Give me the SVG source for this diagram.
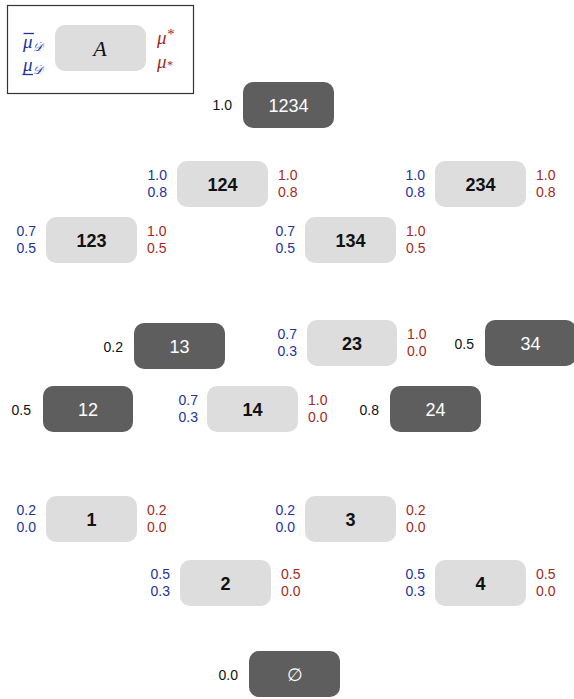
<svg xmlns="http://www.w3.org/2000/svg" width="574" height="699" viewBox="0 0 574 699">
<style>
  .lt { fill: #dddddd; }
  .dk { fill: #5e5e5e; }
  .nl { font-family: "Liberation Sans", Arial, sans-serif; font-size: 18px; text-anchor: middle; }
  .nlb { font-weight: bold; fill: #111111; }
  .nlw { fill: #ffffff; }
  .v { font-family: "Liberation Sans", Arial, sans-serif; font-size: 14px; }
  .b { fill: #2233a0; text-anchor: end; }
  .r { fill: #a52a1c; }
  .k { fill: #111111; text-anchor: end; }
  .m { font-family: "Liberation Serif", "DejaVu Serif", serif; font-style: italic; font-size: 19px; }
</style>
<rect x="0" y="0" width="574" height="699" fill="#ffffff"/>
<g id="legend">
  <rect x="7.5" y="5.5" width="186" height="88" fill="#ffffff" stroke="#333333" stroke-width="1.2"/>
  <rect class="lt" x="55" y="25" width="91" height="46" rx="10"/>
  <text x="100" y="56" text-anchor="middle" style="font-family: 'Liberation Serif', serif; font-style: italic; font-size: 22px;" fill="#111111">A</text>
  <text class="m" x="23" y="48" fill="#2233a0">μ<tspan font-size="12" dy="3">𝒟</tspan></text>
  <line x1="23.5" y1="33.5" x2="34" y2="33.5" stroke="#2233a0" stroke-width="1.3"/>
  <text class="m" x="23" y="71" fill="#2233a0">μ<tspan font-size="12" dy="3">𝒟</tspan></text>
  <line x1="22.5" y1="74.5" x2="33" y2="74.5" stroke="#2233a0" stroke-width="1.3"/>
  <text class="m" x="157" y="44" fill="#a52a1c">μ<tspan font-size="15" dy="-5">*</tspan></text>
  <text class="m" x="157" y="68" fill="#a52a1c">μ<tspan font-size="12" dy="1">*</tspan></text>
</g>
<g id="connectors"/>
<g id="n1234">
  <rect class="dk" x="243" y="82" width="91" height="46" rx="10"/>
  <text class="nl nlw" x="288.5" y="111.5">1234</text>
  <text class="v k" x="232" y="110">1.0</text>
</g>
<g id="n124">
  <rect class="lt" x="177" y="161" width="91" height="46" rx="10"/>
  <text class="nl nlb" x="222.5" y="190.5">124</text>
  <text class="v b" x="167" y="180">1.0</text><text class="v b" x="167" y="197">0.8</text>
  <text class="v r" x="278" y="180">1.0</text><text class="v r" x="278" y="197">0.8</text>
</g>
<g id="n234">
  <rect class="lt" x="435" y="161" width="91" height="46" rx="10"/>
  <text class="nl nlb" x="480.5" y="190.5">234</text>
  <text class="v b" x="425" y="180">1.0</text><text class="v b" x="425" y="197">0.8</text>
  <text class="v r" x="536" y="180">1.0</text><text class="v r" x="536" y="197">0.8</text>
</g>
<g id="n123">
  <rect class="lt" x="46" y="217" width="91" height="46" rx="10"/>
  <text class="nl nlb" x="91.5" y="246.5">123</text>
  <text class="v b" x="36" y="236">0.7</text><text class="v b" x="36" y="253">0.5</text>
  <text class="v r" x="147" y="236">1.0</text><text class="v r" x="147" y="253">0.5</text>
</g>
<g id="n134">
  <rect class="lt" x="305" y="217" width="91" height="46" rx="10"/>
  <text class="nl nlb" x="350.5" y="246.5">134</text>
  <text class="v b" x="295" y="236">0.7</text><text class="v b" x="295" y="253">0.5</text>
  <text class="v r" x="406" y="236">1.0</text><text class="v r" x="406" y="253">0.5</text>
</g>
<g id="n13">
  <rect class="dk" x="134" y="323" width="91" height="46" rx="10"/>
  <text class="nl nlw" x="179.5" y="352.5">13</text>
  <text class="v k" x="123" y="352">0.2</text>
</g>
<g id="n23">
  <rect class="lt" x="307" y="320" width="90" height="46" rx="10"/>
  <text class="nl nlb" x="352" y="349.5">23</text>
  <text class="v b" x="297" y="339">0.7</text><text class="v b" x="297" y="356">0.3</text>
  <text class="v r" x="407" y="339">1.0</text><text class="v r" x="407" y="356">0.0</text>
</g>
<g id="n34">
  <rect class="dk" x="485" y="320" width="91" height="46" rx="10"/>
  <text class="nl nlw" x="530.5" y="349.5">34</text>
  <text class="v k" x="474" y="349">0.5</text>
</g>
<g id="n12">
  <rect class="dk" x="43" y="386" width="90" height="46" rx="10"/>
  <text class="nl nlw" x="88" y="415.5">12</text>
  <text class="v k" x="31" y="415">0.5</text>
</g>
<g id="n14">
  <rect class="lt" x="207" y="386" width="91" height="46" rx="10"/>
  <text class="nl nlb" x="252.5" y="415.5">14</text>
  <text class="v b" x="198" y="405">0.7</text><text class="v b" x="198" y="422">0.3</text>
  <text class="v r" x="308" y="405">1.0</text><text class="v r" x="308" y="422">0.0</text>
</g>
<g id="n24">
  <rect class="dk" x="390" y="386" width="91" height="46" rx="10"/>
  <text class="nl nlw" x="435.5" y="415.5">24</text>
  <text class="v k" x="379" y="415">0.8</text>
</g>
<g id="n1">
  <rect class="lt" x="46" y="496" width="91" height="46" rx="10"/>
  <text class="nl nlb" x="91.5" y="525.5">1</text>
  <text class="v b" x="36" y="515">0.2</text><text class="v b" x="36" y="532">0.0</text>
  <text class="v r" x="147" y="515">0.2</text><text class="v r" x="147" y="532">0.0</text>
</g>
<g id="n3">
  <rect class="lt" x="305" y="496" width="91" height="46" rx="10"/>
  <text class="nl nlb" x="350.5" y="525.5">3</text>
  <text class="v b" x="295" y="515">0.2</text><text class="v b" x="295" y="532">0.0</text>
  <text class="v r" x="406" y="515">0.2</text><text class="v r" x="406" y="532">0.0</text>
</g>
<g id="n2">
  <rect class="lt" x="180" y="560" width="91" height="46" rx="10"/>
  <text class="nl nlb" x="225.5" y="589.5">2</text>
  <text class="v b" x="170" y="579">0.5</text><text class="v b" x="170" y="596">0.3</text>
  <text class="v r" x="281" y="579">0.5</text><text class="v r" x="281" y="596">0.0</text>
</g>
<g id="n4">
  <rect class="lt" x="435" y="560" width="91" height="46" rx="10"/>
  <text class="nl nlb" x="480.5" y="589.5">4</text>
  <text class="v b" x="425" y="579">0.5</text><text class="v b" x="425" y="596">0.3</text>
  <text class="v r" x="536" y="579">0.5</text><text class="v r" x="536" y="596">0.0</text>
</g>
<g id="nempty">
  <rect class="dk" x="249" y="651" width="91" height="46" rx="10"/>
  <text class="nl nlw" x="294.5" y="680.5">∅</text>
  <text class="v k" x="238" y="680">0.0</text>
</g>
</svg>
